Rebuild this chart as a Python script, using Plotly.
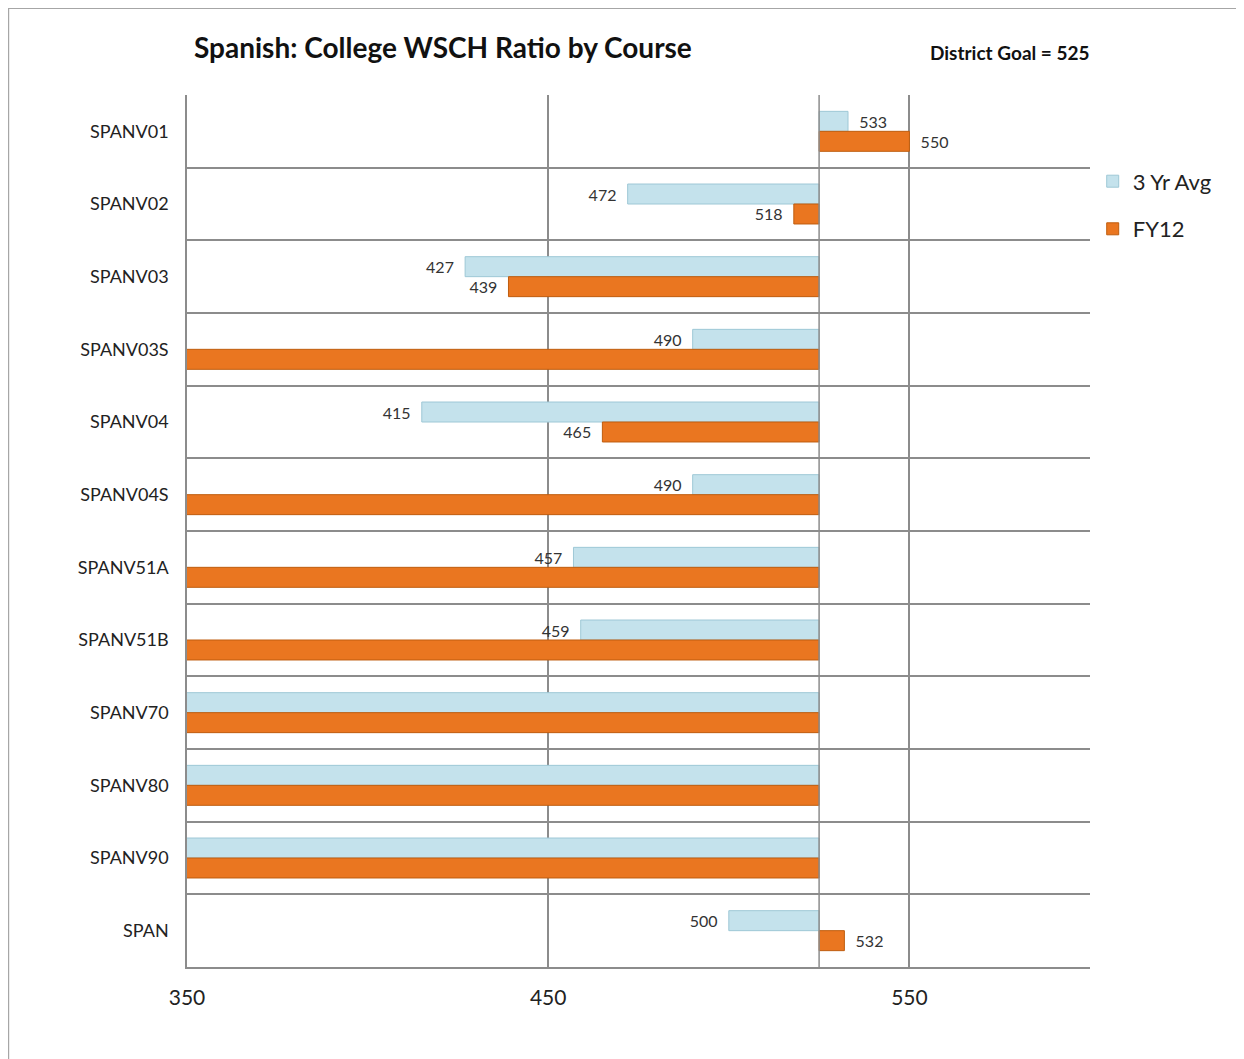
import plotly.graph_objects as go

# Course names, top to bottom
courses = ["SPANV01", "SPANV02", "SPANV03", "SPANV03S", "SPANV04", "SPANV04S",
           "SPANV51A", "SPANV51B", "SPANV70", "SPANV80", "SPANV90", "SPAN"]

# WSCH ratio values (0 = no value, bar runs off the left edge)
avg_3yr = [533, 472, 427, 490, 415, 490, 457, 459, 0, 0, 0, 500]
fy12 = [550, 518, 439, 0, 465, 0, 0, 0, 0, 0, 0, 532]

# Bars start from the district goal
district_goal = 525

x_ticks = [350, 450, 550]

GRID = "#8c8c8c"
FONT = "Lato, 'Open Sans', sans-serif"
PAD = "\u00a0\u00a0"  # small gap between bar end and its label


def label(v):
    # Label sits outside the bar end, so pad on the side facing the bar
    if not v:
        return ""
    return PAD + str(v) if v > district_goal else str(v) + PAD


def bar_trace(name, values, color, edge):
    # Bar length measured from the goal line
    return go.Bar(
        y=courses,
        x=[v - district_goal for v in values],
        base=district_goal,
        orientation="h",
        name=name,
        legendgroup=name,
        marker=dict(color=color, line=dict(color=edge, width=1)),
        text=[label(v) for v in values],
        textposition="outside",
        textfont=dict(size=16, color="#333333", family=FONT),
        cliponaxis=True,
    )


fig = go.Figure()
fig.add_trace(bar_trace("3 Yr Avg", avg_3yr, "#c4e2ec", "#9ec8d6"))
fig.add_trace(bar_trace("FY12", fy12, "#ea7620", "#bf5d0e"))

fig.update_layout(
    width=1244,
    height=1059,
    paper_bgcolor="white",
    plot_bgcolor="white",
    font=dict(family=FONT, color="#222222"),
    barmode="group",
    bargap=0.45,
    bargroupgap=0,
    # page body adds an 8px offset, so margins are shifted to compensate
    margin=dict(l=179, r=162, t=87, b=100),
    showlegend=True,
    legend=dict(
        x=1.003, y=0.925, xanchor="left", yanchor="top",
        font=dict(size=22, family=FONT, color="#222222"),
        traceorder="grouped",
        tracegroupgap=16,
        itemwidth=30,
        bgcolor="rgba(0,0,0,0)",
    ),
)

fig.update_xaxes(
    range=[350, 600],
    tickvals=x_ticks,
    showgrid=True,
    gridcolor=GRID,
    gridwidth=1.5,
    showline=True,
    linecolor=GRID,
    linewidth=1.5,
    zeroline=False,
    ticks="outside",
    ticklen=11,
    tickcolor="rgba(0,0,0,0)",
    tickfont=dict(size=21, family=FONT, color="#222222"),
)

fig.update_yaxes(
    autorange="reversed",
    showgrid=True,
    gridcolor=GRID,
    gridwidth=1.5,
    tickson="boundaries",
    showline=True,
    linecolor=GRID,
    linewidth=1.5,
    ticks="",
    ticklabelstandoff=13,
    tickfont=dict(size=18, family=FONT, color="#222222"),
)

# Vertical axis crossing at the district goal
fig.add_shape(
    type="line", xref="x", yref="paper",
    x0=district_goal, x1=district_goal, y0=0, y1=1,
    line=dict(color=GRID, width=1.5), layer="above",
)

# Outer chart frame
fig.add_shape(
    type="rect", xref="paper", yref="paper",
    x0=-0.198, x1=1.167, y0=-0.13, y1=1.0998,
    line=dict(color="#a6a6a6", width=2), layer="below",
)

# Title and goal note
fig.add_annotation(
    text="<b>Spanish: College WSCH Ratio by Course</b>",
    xref="paper", yref="paper", x=0.0055, y=1.055,
    xanchor="left", yanchor="middle", showarrow=False,
    font=dict(size=28, family=FONT, color="#111111"),
)
fig.add_annotation(
    text="<b>District Goal = 525</b>",
    xref="paper", yref="paper", x=1.002, y=1.049,
    xanchor="right", yanchor="middle", showarrow=False,
    font=dict(size=19, family=FONT, color="#111111"),
)

fig.write_html("out.html")
